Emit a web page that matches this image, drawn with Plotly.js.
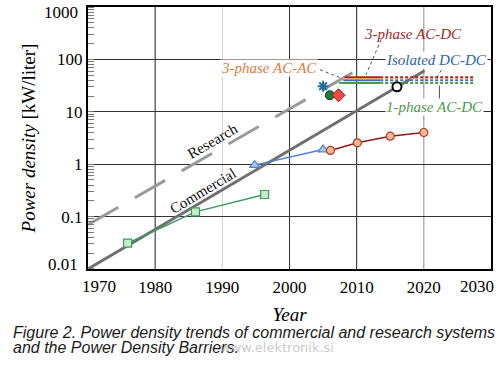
<!DOCTYPE html>
<html>
<head>
<meta charset="utf-8">
<script src="https://cdn.plot.ly/plotly-3.0.1.min.js"></script>
<style>html,body{margin:0;padding:0;background:#fff}#chart{width:500px;height:374px}</style>
</head>
<body>
<div id="chart"></div>
<script>
// ---- data ----
const yTickVals = [0.01, 0.1, 1, 10, 100, 1000];
const yTickText = ['0.01', '0.1', '1', '10', '100', '1000'];
const xTickVals = [1970, 1980, 1990, 2000, 2010, 2020, 2030];
const xTickText = ['1970', '1980', '1990', '2000', '2010', '2020', '2030'];
const gridYears = [1980, 1990, 2000, 2010, 2020];
const gridColors = ['#222', '#d0d0d0', '#333', '#222', '#888'];

const commercialYears = [1970, 2020.1];
const commercialVals = [0.01, 61];
const researchYears = [1970, 2009.4];
const researchVals = [0.07, 56];

const squareYears = [1975.9, 1986.0, 1996.3];
const squareVals = [0.031, 0.123, 0.264];
const triangleYears = [1994.8, 2005.0];
const triangleVals = [0.96, 1.9];
const circleYears = [2006.1, 2010.1, 2015.0, 2020.0];
const circleVals = [1.83, 2.56, 3.42, 4.03];

const pointYears = [2005.0, 2006.0, 2007.3, 2016.0];
const pointVals = [30.8, 20.7, 20.7, 30];

const barrierNames = ['3-phase AC-DC', '3-phase AC-AC', 'Isolated DC-DC', '1-phase AC-DC'];
const barrierVals = [46, 42.5, 40, 35.5];
const barrierStart = [2008.2, 2007.9, 2008.0, 2007.4];
const barrierMid = [2013.5, 2013.5, 2013.5, 2013.5];
const barrierEnd = [2027.5, 2027.5, 2027.5, 2027.5];
const barrierColors = ['#b22222', '#f0a070', '#3d6fb8', '#4a9a50'];

// ---- traces ----
const traces = [];
traces.push({x: researchYears, y: researchVals, mode: 'lines',
  line: {color: '#9a9a9a', width: 3, dash: '35px,19px'}});
traces.push({x: commercialYears, y: commercialVals, mode: 'lines',
  line: {color: '#707070', width: 3}});
traces.push({x: squareYears, y: squareVals, mode: 'lines+markers',
  line: {color: '#3a9a62', width: 1.5},
  marker: {symbol: 'square', size: 8, color: '#c4ecc4', line: {color: '#3a9a62', width: 1.2}}});
traces.push({x: triangleYears, y: triangleVals, mode: 'lines+markers',
  line: {color: '#4a80d8', width: 1.5},
  marker: {symbol: 'triangle-up', size: 9, color: '#b0c8f0', line: {color: '#4a80d8', width: 1.2}}});
traces.push({x: circleYears, y: circleVals, mode: 'lines+markers',
  line: {color: '#8b1a1a', width: 1.5},
  marker: {symbol: 'circle', size: 8, color: '#f8b88e', line: {color: '#b03a2a', width: 1.2}}});

for (let i = 0; i < barrierNames.length; i++) {
  traces.push({x: [barrierStart[i], barrierMid[i]], y: [barrierVals[i], barrierVals[i]], mode: 'lines',
    line: {color: barrierColors[i], width: 1.8}});
  traces.push({x: [barrierMid[i], barrierEnd[i]], y: [barrierVals[i], barrierVals[i]], mode: 'lines',
    line: {color: barrierColors[i], width: 1.8, dash: '3px,2px'}});
}

traces.push({x: [pointYears[0]], y: [pointVals[0]], mode: 'markers',
  marker: {symbol: 'asterisk-open', size: 9, color: '#1f6f9a', line: {color: '#1f6f9a', width: 2}}});
traces.push({x: [pointYears[1]], y: [pointVals[1]], mode: 'markers',
  marker: {symbol: 'circle', size: 9, color: '#1f7a3c', line: {color: '#0e3a1c', width: 1}}});
traces.push({x: [pointYears[2]], y: [pointVals[2]], mode: 'markers',
  marker: {symbol: 'diamond', size: 10, color: '#f04848', line: {color: '#a01010', width: 1}}});
traces.push({x: [pointYears[3]], y: [pointVals[3]], mode: 'markers',
  marker: {symbol: 'circle', size: 9, color: '#ffffff', line: {color: '#000000', width: 2}}});

traces.forEach(t => { t.type = 'scatter'; t.showlegend = false; t.hoverinfo = 'skip'; });

// ---- layout ----
const serif = 'Liberation Serif, Times New Roman, serif';
const shapes = gridYears.map((yr, i) => ({type: 'line', xref: 'x', yref: 'paper', x0: yr, x1: yr, y0: 0, y1: 1,
  line: {color: gridColors[i], width: 1}, layer: 'below'}));
const leader = (x0, y0, x1, y1, dash) => ({type: 'line', xref: 'paper', yref: 'paper', x0, y0, x1, y1,
  line: {color: '#222', width: 0.8, dash: dash}});
shapes.push(leader(0.7275, 0.876, 0.690, 0.742, 'dot'));
shapes.push(leader(0.8846, 0.778, 0.864, 0.727, 'dot'));
shapes.push(leader(0.872, 0.700, 0.872, 0.647, 'solid'));
shapes.push(leader(0.562, 0.769, 0.6315, 0.727, 'dot'));

const ann = (text, x, y, color, extra) => Object.assign({text, x, y, xref: 'paper', yref: 'paper',
  showarrow: false, xanchor: 'center', yanchor: 'middle',
  font: {family: serif, size: 15, color}}, extra || {});

// edge tick labels sit slightly inside the frame in the reference
const edgeLbl = (text, x, y, xanchor) => ({text, x, y, xref: 'paper', yref: 'paper', showarrow: false,
  xanchor, yanchor: 'middle', font: {family: serif, size: 17, color: '#000'}});

const sans = 'Liberation Sans, Arial, sans-serif';
const annotations = [
  ann('<i>3-phase AC-DC</i>', 0.807, 0.898, '#a31f1f'),
  ann('<i>Isolated DC-DC</i>', 0.865, 0.796, '#2f64a8', {bgcolor: '#fff', borderpad: 0}),
  ann('<i>1-phase AC-DC</i>', 0.860, 0.619, '#4a9a48', {bgcolor: '#fff', borderpad: 0}),
  ann('<i>3-phase AC-AC</i>', 0.448, 0.768, '#e07a3a', {bgcolor: '#fff', borderpad: 0}),
  ann('Research', 0.3096, 0.488, '#111', {textangle: -30}),
  ann('Commercial', 0.285, 0.297, '#111', {textangle: -31}),
  edgeLbl(xTickText[0], 0.0285, -0.066, 'center'),
  edgeLbl(xTickText[6], 0.9657, -0.066, 'center'),
  edgeLbl(yTickText[0], -0.021, 0.0172, 'right'),
  edgeLbl(yTickText[5], -0.021, 0.980, 'right'),
  {text: '<i>Figure 2. Power density trends of commercial and research systems</i>', xref: 'paper', yref: 'paper',
    x: -0.19, y: -0.243, xanchor: 'left', yanchor: 'middle', showarrow: false,
    font: {family: sans, size: 16, color: '#1a1a1a'}},
  {text: '<i>and the Power Density Barriers.</i>', xref: 'paper', yref: 'paper',
    x: -0.19, y: -0.298, xanchor: 'left', yanchor: 'middle', showarrow: false,
    font: {family: sans, size: 16, color: '#1a1a1a'}},
  {text: 'www.elektronik.si', xref: 'paper', yref: 'paper',
    x: 0.47, y: -0.298, xanchor: 'center', yanchor: 'middle', showarrow: false, opacity: 0.6,
    font: {family: 'DejaVu Sans, sans-serif', size: 13, color: '#a8a8a8'}}
];

const xAxisText = xTickText.map((t, i) => (i === 0 || i === xTickText.length - 1) ? '' : t);
const yAxisText = yTickText.map((t, i) => (i === 0 || i === yTickText.length - 1) ? '' : t);

const layout = {
  width: 500, height: 374,
  margin: {l: 88, r: 9, t: 7, b: 105},
  paper_bgcolor: '#fff', plot_bgcolor: '#fff',
  showlegend: false,
  xaxis: {
    range: [1970, 2030], tickvals: xTickVals, ticktext: xAxisText, showgrid: false, zeroline: false,
    showline: true, mirror: true, linecolor: '#000', linewidth: 2, ticks: '',
    ticklabelstandoff: 2,
    tickfont: {family: serif, size: 17, color: '#000'},
    title: {text: '<i>Year</i>', font: {family: serif, size: 19, color: '#000'}, standoff: 11}
  },
  yaxis: {
    type: 'log', range: [-2.001, 3.001], tickvals: yTickVals, ticktext: yAxisText,
    showgrid: true, gridcolor: '#333', gridwidth: 1, zeroline: false,
    showline: true, mirror: true, linecolor: '#000', linewidth: 2, ticks: '',
    minor: {ticks: 'inside', ticklen: 6, tickcolor: '#777', tickwidth: 1, showgrid: false, dtick: 'D1'},
    tickfont: {family: serif, size: 17, color: '#000'},
    title: {text: '<i>Power density</i> [kW/liter]', font: {family: serif, size: 19, color: '#000'}, standoff: 16}
  },
  shapes, annotations
};

Plotly.newPlot('chart', traces, layout, {staticPlot: true, displayModeBar: false});
</script>
</body>
</html>
